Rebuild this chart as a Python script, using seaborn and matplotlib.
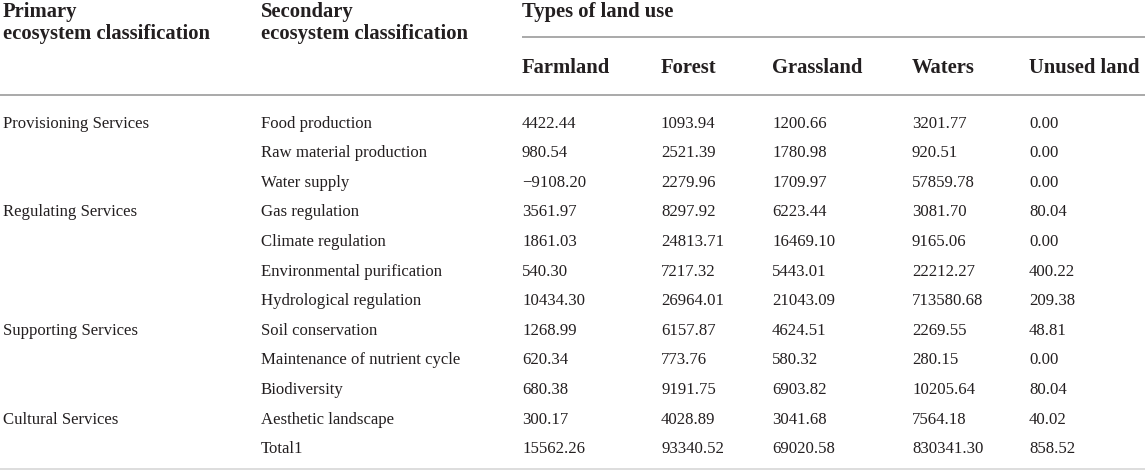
import matplotlib
matplotlib.use("Agg")
import matplotlib.pyplot as plt
import seaborn as sns
import pandas as pd

# ---- data ----
primary = ["Provisioning Services", "", "", "Regulating Services", "", "", "",
           "Supporting Services", "", "", "Cultural Services", ""]
secondary = ["Food production", "Raw material production", "Water supply",
             "Gas regulation", "Climate regulation", "Environmental purification",
             "Hydrological regulation", "Soil conservation",
             "Maintenance of nutrient cycle", "Biodiversity", "Aesthetic landscape",
             "Total1"]
land_types = ["Farmland", "Forest", "Grassland", "Waters", "Unused land"]
farmland = [4422.44, 980.54, -9108.20, 3561.97, 1861.03, 540.30, 10434.30,
            1268.99, 620.34, 680.38, 300.17, 15562.26]
forest = [1093.94, 2521.39, 2279.96, 8297.92, 24813.71, 7217.32, 26964.01,
          6157.87, 773.76, 9191.75, 4028.89, 93340.52]
grassland = [1200.66, 1780.98, 1709.97, 6223.44, 16469.10, 5443.01, 21043.09,
             4624.51, 580.32, 6903.82, 3041.68, 69020.58]
waters = [3201.77, 920.51, 57859.78, 3081.70, 9165.06, 22212.27, 713580.68,
          2269.55, 280.15, 10205.64, 7564.18, 830341.30]
unused = [0.00, 0.00, 0.00, 80.04, 0.00, 400.22, 209.38, 48.81, 0.00, 80.04,
          40.02, 858.52]

df = pd.DataFrame({"Primary": primary, "Secondary": secondary,
                   "Farmland": farmland, "Forest": forest, "Grassland": grassland,
                   "Waters": waters, "Unused land": unused})

sns.set_theme(style="white")
plt.rcParams["font.family"] = ["Liberation Serif", "DejaVu Serif"]

W, H = 1145, 473
fig = plt.figure(figsize=(W / 100, H / 100), dpi=100)
ax = fig.add_axes([0, 0, 1, 1])
ax.set_xlim(0, W)
ax.set_ylim(H, 0)
ax.axis("off")

txt = "#231f20"
hdr_fs = 14.9
body_fs = 12.1
x_prim, x_sec = 3, 261
col_x = [522, 661, 772, 912, 1029]

def hdr(x, y, s):
    ax.text(x, y, s, fontsize=hdr_fs, fontweight="bold", color=txt, va="baseline")

# headers
hdr(x_prim, 17, "Primary")
hdr(x_prim, 39, "ecosystem classification")
hdr(x_sec, 17, "Secondary")
hdr(x_sec, 39, "ecosystem classification")
hdr(col_x[0], 17, "Types of land use")
for x, name in zip(col_x, land_types):
    hdr(x, 73, name)

# rules
ax.plot([col_x[0], W], [36.7, 36.7], color="#a3a3a3", lw=1.3, solid_capstyle="butt")
ax.plot([0, W], [95, 95], color="#a3a3a3", lw=1.3, solid_capstyle="butt")
ax.plot([0, W], [469, 469], color="#dadada", lw=1.3, solid_capstyle="butt")

def fmt(v):
    s = f"{abs(v):.2f}"
    return ("\u2212" + s) if v < 0 else s

y0, dy = 127.5, 29.6
for i, row in df.iterrows():
    y = y0 + i * dy
    if row["Primary"]:
        ax.text(x_prim, y, row["Primary"], fontsize=body_fs, color=txt, va="baseline")
    ax.text(x_sec, y, row["Secondary"], fontsize=body_fs, color=txt, va="baseline")
    for x, name in zip(col_x, land_types):
        ax.text(x, y, fmt(row[name]), fontsize=body_fs, color=txt, va="baseline")

fig.savefig("out.png", dpi=100, facecolor="white")
